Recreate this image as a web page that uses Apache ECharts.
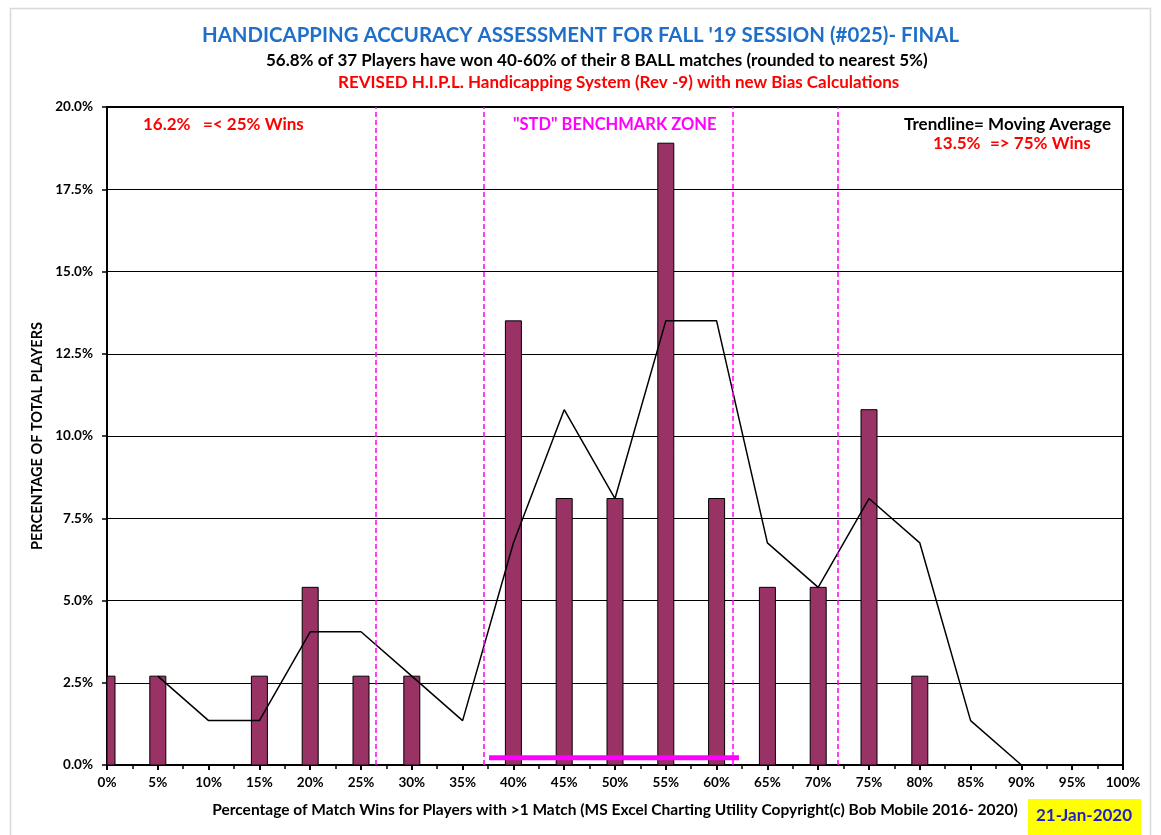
<!DOCTYPE html>
<html>
<head>
<meta charset="utf-8">
<title>Handicapping Accuracy Assessment</title>
<script src="https://cdn.jsdelivr.net/npm/echarts@6/dist/echarts.min.js"></script>
<style>
  html, body { margin: 0; padding: 0; background: #fff; }
  #chart { width: 1161px; height: 835px; }
</style>
</head>
<body>
<div id="chart"></div>
<script>
// match win percentage buckets (x positions, %)
const winPct = [0, 5, 15, 20, 25, 30, 40, 45, 50, 55, 60, 65, 70, 75, 80];
// share of players in each bucket (%)
const playerShare = [2.7, 2.7, 2.7, 5.4, 2.7, 2.7, 13.5, 8.1, 8.1, 18.9, 8.1, 5.4, 5.4, 10.8, 2.7];

// 2-period moving average trendline
const trendX = [5, 10, 15, 20, 25, 30, 35, 40, 45, 50, 55, 60, 65, 70, 75, 80, 85, 90];
const trendY = [2.7, 1.35, 1.35, 4.05, 4.05, 2.7, 1.35, 6.75, 10.8, 8.1, 13.5, 13.5, 6.75, 5.4, 8.1, 6.75, 1.35, 0];

// dashed zone boundaries and the benchmark zone bar
const zoneLines = [26.5, 37.1, 61.6, 71.9];
const benchmarkX = [37.6, 62.2];
const benchmarkY = [0.22, 0.22];

const FONT = 'Lato';
const BAR_WIDTH = 16;

const chart = echarts.init(document.getElementById('chart'));

// bars drawn through the axis scales, clipped to the plot area
// (the built-in bar clip is widened by half a bar, so the 0% bar would spill out)
const renderBar = (params, api) => {
  const x = api.value(0);
  const top = api.coord([x, api.value(1)]);
  const base = api.coord([x, 0]);
  const cs = params.coordSys;
  const rect = echarts.graphic.clipRectByRect(
    { x: top[0] - BAR_WIDTH / 2, y: top[1], width: BAR_WIDTH, height: base[1] - top[1] },
    { x: cs.x, y: cs.y, width: cs.width, height: cs.height }
  );
  if (!rect) return;
  return {
    type: 'rect',
    shape: rect,
    style: { fill: '#993366', stroke: '#000', lineWidth: 1 }
  };
};

const option = {
  backgroundColor: '#fff',
  animation: false,
  textStyle: { fontFamily: FONT },
  title: [
    {
      text: "HANDICAPPING ACCURACY ASSESSMENT FOR FALL '19 SESSION (#025)- FINAL",
      left: 'center', top: 20,
      textStyle: { color: '#1F6FC8', fontSize: 20.4, fontWeight: 'bold', fontFamily: FONT }
    },
    {
      text: '56.8% of 37 Players have won 40-60% of their 8 BALL matches (rounded to nearest 5%)',
      left: 261, top: 47,
      textStyle: { color: '#000', fontSize: 17, fontWeight: 'bold', fontFamily: FONT }
    },
    {
      text: 'REVISED H.I.P.L. Handicapping System (Rev -9) with new Bias Calculations',
      left: 333, top: 69,
      textStyle: { color: '#FF0000', fontSize: 17, fontWeight: 'bold', fontFamily: FONT }
    }
  ],
  grid: { left: 107, right: 38, top: 107, bottom: 70, show: true, borderColor: '#000', borderWidth: 2 },
  xAxis: {
    type: 'value',
    min: 0, max: 100, interval: 5,
    name: 'Percentage of Match Wins for Players with >1 Match (MS Excel Charting Utility Copyright(c) Bob Mobile 2016- 2020)',
    nameLocation: 'middle', nameGap: 37,
    nameTextStyle: { color: '#000', fontSize: 15.5, fontWeight: 'bold', fontFamily: FONT },
    axisLine: { show: true, lineStyle: { color: '#000', width: 2 } },
    axisTick: { show: true, length: 5, lineStyle: { color: '#000', width: 2 } },
    minorTick: { show: true, splitNumber: 2, length: 4, lineStyle: { color: '#000', width: 1.5 } },
    axisLabel: { formatter: '{value}%', color: '#000', fontSize: 13.5, fontWeight: 'bold', margin: 11, fontFamily: FONT },
    splitLine: { show: false }
  },
  yAxis: {
    type: 'value',
    min: 0, max: 20, interval: 2.5,
    name: 'PERCENTAGE OF TOTAL PLAYERS',
    nameLocation: 'middle', nameGap: 59, nameRotate: 90,
    nameTextStyle: { color: '#000', fontSize: 14.5, fontWeight: 'bold', fontFamily: FONT },
    axisLine: { show: true, lineStyle: { color: '#000', width: 2 } },
    axisTick: { show: true, length: 5, lineStyle: { color: '#000', width: 1.5 } },
    axisLabel: {
      formatter: v => v.toFixed(1) + '%',
      color: '#000', fontSize: 13.5, fontWeight: 'bold', margin: 14, fontFamily: FONT
    },
    splitLine: { show: true, lineStyle: { color: '#000', width: 1 } }
  },
  series: [
    {
      type: 'custom',
      renderItem: renderBar,
      data: winPct.map((x, i) => [x, playerShare[i]]),
      encode: { x: 0, y: 1 },
      z: 2
    },
    {
      type: 'line',
      data: [],
      markLine: {
        silent: true,
        symbol: 'none',
        label: { show: false },
        lineStyle: { color: '#FF00FF', type: [5, 3], width: 1.5 },
        data: zoneLines.map(x => ({ xAxis: x }))
      }
    },
    {
      type: 'line',
      data: trendX.map((x, i) => [x, trendY[i]]),
      showSymbol: false,
      lineStyle: { color: '#000', width: 1.5 },
      z: 3
    },
    {
      type: 'line',
      data: benchmarkX.map((x, i) => [x, benchmarkY[i]]),
      showSymbol: false,
      lineStyle: { color: '#FF00FF', width: 5 },
      z: 4
    }
  ],
  graphic: [
    {
      type: 'rect', left: 8, top: 6, z: -10,
      shape: { width: 1140, height: 840 },
      style: { fill: 'none', stroke: '#d9d9d9', lineWidth: 1.5 }
    },
    {
      type: 'text', left: 143, top: 116,
      style: { text: '16.2%', fill: '#FF0000', font: 'bold 17px ' + FONT }
    },
    {
      type: 'text', left: 203, top: 116,
      style: { text: '=< 25% Wins', fill: '#FF0000', font: 'bold 17px ' + FONT }
    },
    {
      type: 'text', left: 513, top: 116,
      style: { text: '"STD" BENCHMARK ZONE', fill: '#FF00FF', font: 'bold 16.5px ' + FONT }
    },
    {
      type: 'text', right: 50, top: 116,
      style: { text: 'Trendline= Moving Average', fill: '#000', font: 'bold 17px ' + FONT }
    },
    {
      type: 'text', left: 933, top: 135,
      style: { text: '13.5%', fill: '#FF0000', font: 'bold 17px ' + FONT }
    },
    {
      type: 'text', left: 990, top: 135,
      style: { text: '=> 75% Wins', fill: '#FF0000', font: 'bold 17px ' + FONT }
    },
    {
      type: 'group', left: 1028, top: 799,
      children: [
        { type: 'rect', shape: { width: 113, height: 36 }, style: { fill: '#FFFF00' } },
        {
          type: 'text', x: 56, y: 17,
          style: { text: '21-Jan-2020', fill: '#1F1FCC', font: 'bold 17px ' + FONT, align: 'center', verticalAlign: 'middle' }
        }
      ]
    }
  ]
};

chart.setOption(option);
</script>
</body>
</html>
